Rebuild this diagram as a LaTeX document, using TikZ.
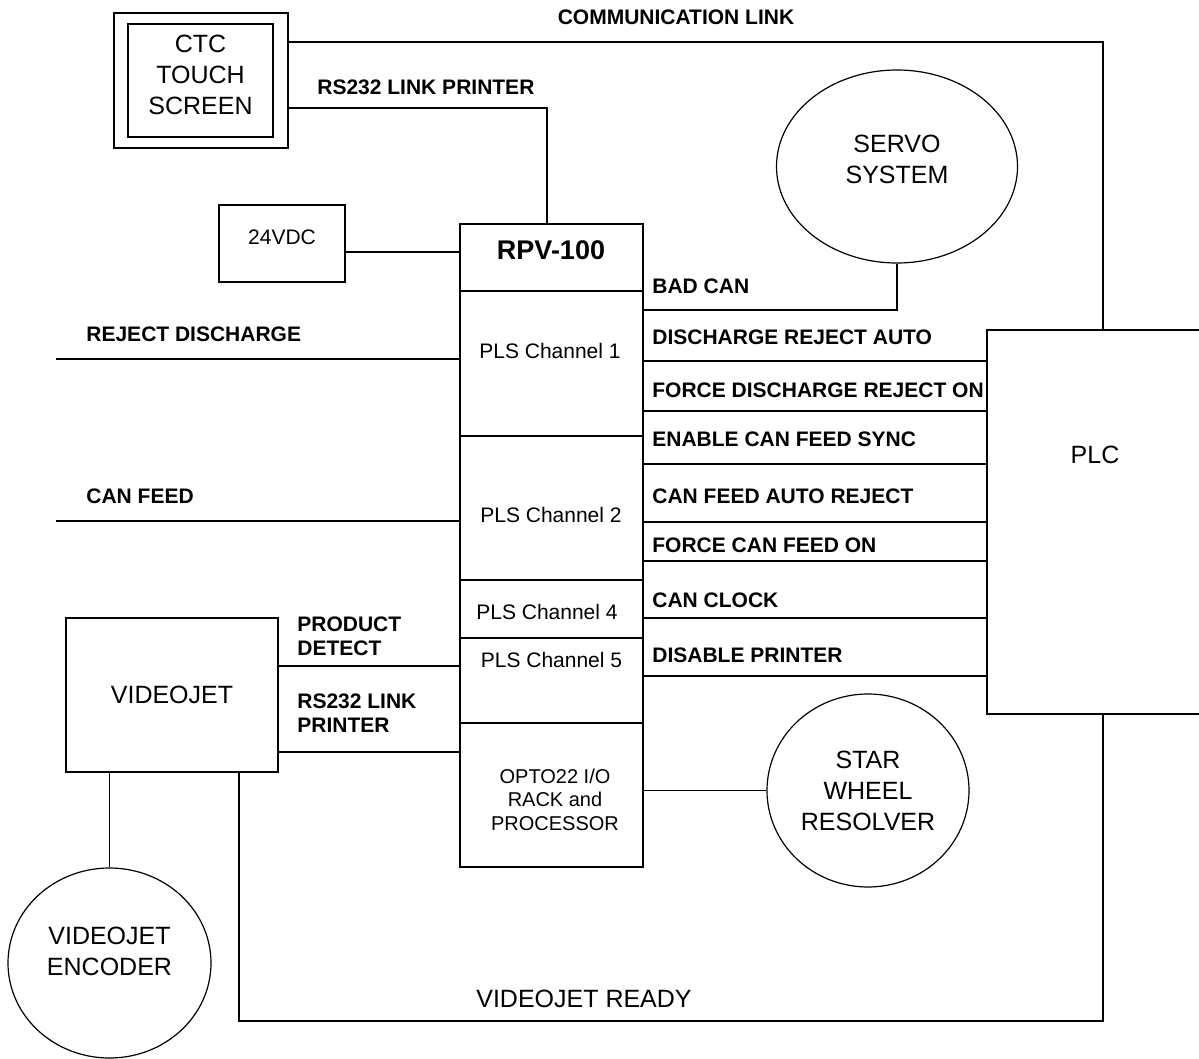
\documentclass[tikz,border=0pt]{standalone}
\usepackage{fontspec}
\setmainfont{Liberation Sans}
\usetikzlibrary{shapes.geometric}
\begin{document}
\begin{tikzpicture}[x=.5pt,y=-.5pt,
  box/.style={draw,line width=.9pt,inner sep=0pt},
  blob/.style={draw,ellipse,line width=.6pt,inner sep=0pt},
  wire/.style={line width=.85pt},
  lbl/.style={font=\fontsize{10.5}{12}\selectfont\bfseries,inner sep=0pt},
  txt/.style={font=\fontsize{10.5}{12}\selectfont,inner sep=0pt},
  big/.style={font=\fontsize{12.5}{15.5}\selectfont,align=center,inner sep=0pt}]
\useasboundingbox (0,0) rectangle (1199,1059);
% units
\node[box,line width=1.3pt,minimum width=87pt,minimum height=67.5pt] (ctco) at (201,80.5) {};
\node[box,line width=1.3pt,minimum width=72.5pt,minimum height=56.5pt,
  label={[big,yshift=2.75pt]center:CTC\\TOUCH\\SCREEN}] (ctci) at (200.5,80.5) {};
\node[box,minimum width=63pt,minimum height=38.5pt,
  label={[txt,yshift=3.25pt]center:24VDC}] (vdc) at (282,243.5) {};
\node[blob,minimum width=120.5pt,minimum height=96.5pt,
  label={[big,yshift=3.5pt]center:SERVO\\SYSTEM}] (servo) at (897,166.5) {};
\node[box,minimum width=108.5pt,minimum height=192pt] (plc) at (1095.5,522) {};
\node[big] (plct) at (1095,454.5) {PLC};
\node[box,minimum width=106pt,minimum height=77pt,big] (vj) at (172,695) {VIDEOJET};
\node[blob,minimum width=101pt,minimum height=96.5pt,big] (star) at (868,790.5) {STAR\\WHEEL\\RESOLVER};
\node[blob,minimum width=101.5pt,minimum height=95pt,
  label={[big,yshift=5.75pt]center:VIDEOJET\\ENCODER}] (enc) at (109.5,963) {};
% RPV-100 stack
\node[box,minimum width=91.5pt,minimum height=321.5pt] (rpv) at (551.5,545.5) {};
\foreach \y in {291,436,580,638,723}
  \draw[line width=.7pt] (rpv.west |- 0,\y) -- (rpv.east |- 0,\y);
\node[font=\fontsize{13.5}{16}\selectfont\bfseries] (rpvt) at (551,250) {RPV-100};
\node[txt] (ch1) at (550,350.5) {PLS Channel 1};
\node[txt] (ch2) at (551,514.5) {PLS Channel 2};
\node[txt] (ch4) at (547,611.5) {PLS Channel 4};
\node[txt] (ch5) at (551.5,659.5) {PLS Channel 5};
\node[txt,font=\fontsize{10}{11.75}\selectfont,align=center] (opto) at (555,799.5) {OPTO22 I/O\\RACK and\\PROCESSOR};
% links
\coordinate (clk) at (1103,42);
\coordinate (rsk) at (547,108);
\coordinate (vjr) at (1103,1021);
\coordinate (rejend) at (56,359);
\coordinate (feedend) at (56,521);
\draw[wire] (ctco.east |- clk) -| (plc.north -| clk);
\draw[wire] (ctco.east |- rsk) -| (rpv.north -| rsk);
\draw[wire] (vdc.east |- 0,252) -- (rpv.west |- 0,252);
\draw[wire] (servo.south) |- (rpv.east |- 0,310);
\foreach \y in {361,411,464,522,561,618,676}
  \draw[wire] (rpv.east |- 0,\y) -- (plc.west |- 0,\y);
\draw[wire] (rejend) -- (rpv.west |- rejend);
\draw[wire] (feedend) -- (rpv.west |- feedend);
\draw[wire] (vj.east |- 0,666) -- (rpv.west |- 0,666);
\draw[wire] (vj.east |- 0,752) -- (rpv.west |- 0,752);
\draw[wire] (rpv.east |- star) -- (star.west);
\draw[wire] (enc.north |- vj.south) -- (enc.north);
\draw[wire] (vj.south -| 239,0) |- (vjr) -- (plc.south -| vjr);
% signal names
\node[lbl] (comm) at (676,17) {COMMUNICATION LINK};
\node[lbl,anchor=west] (rs1) at (317,87) {RS232 LINK PRINTER};
\node[lbl,anchor=west] (bad) at (652,286) {BAD CAN};
\foreach \t/\y in {DISCHARGE REJECT AUTO/337,FORCE DISCHARGE REJECT ON/390,
    ENABLE CAN FEED SYNC/439,CAN FEED AUTO REJECT/496,FORCE CAN FEED ON/545,
    CAN CLOCK/600,DISABLE PRINTER/655}
  \node[lbl,anchor=west] (sig\y) at (652,\y) {\t};
\node[lbl,anchor=west] (rej) at (86,334) {REJECT DISCHARGE};
\node[lbl,anchor=west] (feed) at (86,496) {CAN FEED};
\node[lbl,anchor=west,align=left] (pd) at (297,636) {PRODUCT\\DETECT};
\node[lbl,anchor=west,align=left] (rs2) at (297,713.5) {RS232 LINK\\PRINTER};
\node[big] (vjrt) at (584,999) {VIDEOJET READY};
\end{tikzpicture}
\end{document}
